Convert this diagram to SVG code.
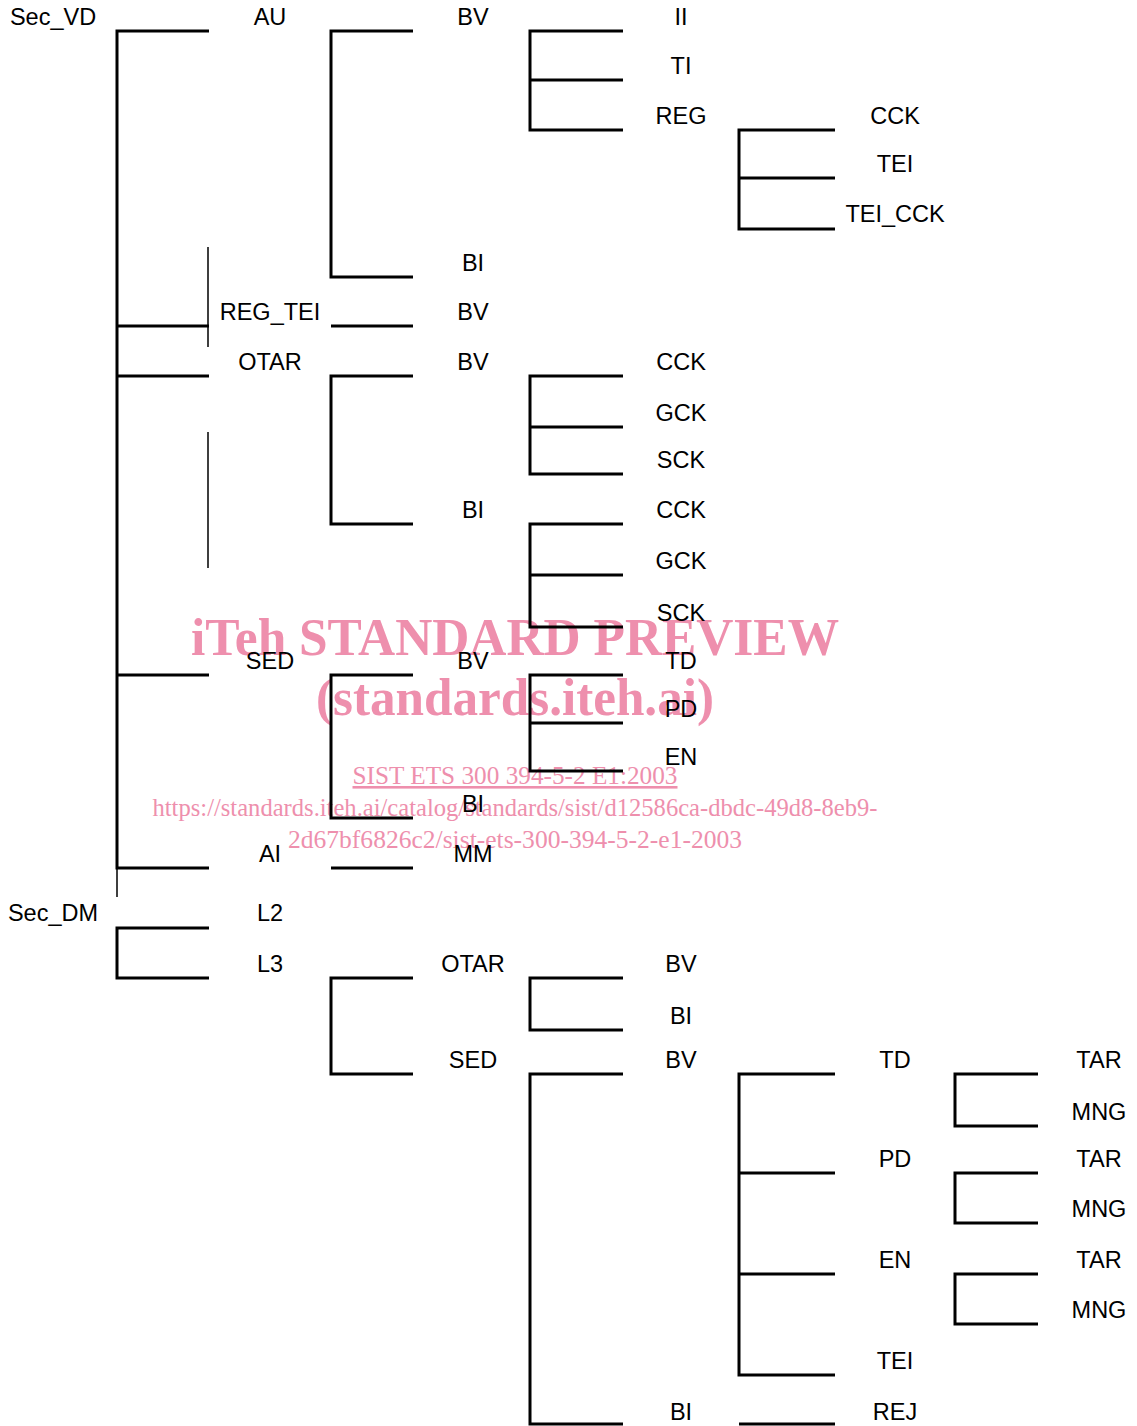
<svg xmlns="http://www.w3.org/2000/svg" width="1137" height="1426" viewBox="0 0 1137 1426">
<style>
.c{fill:none;stroke:#000;stroke-width:3;stroke-linecap:butt;stroke-linejoin:miter}
.t{fill:none;stroke:#000;stroke-width:1.5}
.l{font-family:"Liberation Sans",Arial,sans-serif;font-size:23.5px;fill:#000;text-anchor:middle}
.wm{font-family:"Liberation Serif","Times New Roman",serif;fill:#EE8FAD;text-anchor:middle}
.wb{font-weight:bold;font-size:52px}
.ws{font-size:26px}
</style>
<rect width="1137" height="1426" fill="#fff"/>
<g id="watermark">
<text class="wm wb" x="515" y="655" textLength="648" lengthAdjust="spacingAndGlyphs">iTeh STANDARD PREVIEW</text>
<text class="wm wb" x="515" y="715" textLength="398" lengthAdjust="spacingAndGlyphs">(standards.iteh.ai)</text>
<text class="wm ws" x="515" y="784" textLength="325" lengthAdjust="spacingAndGlyphs" text-decoration="underline">SIST ETS 300 394-5-2 E1:2003</text>
<text class="wm ws" x="515" y="816" textLength="725" lengthAdjust="spacingAndGlyphs">https://standards.iteh.ai/catalog/standards/sist/d12586ca-dbdc-49d8-8eb9-</text>
<text class="wm ws" x="515" y="848" textLength="454" lengthAdjust="spacingAndGlyphs">2d67bf6826c2/sist-ets-300-394-5-2-e1-2003</text>
</g>
<g id="connectors">
<path class="c" d="M209,31H117V868H209M117,326H209M117,376H209M117,675H209"/>
<path class="t" d="M117,868V897M208,247V347M208,432V568"/>
<path class="c" d="M413,31H331V277H413M331,326H413M413,376H331V524H413M413,675H331V818H413M331,868H413"/>
<path class="c" d="M623,31H530V130H623M530,80H623"/>
<path class="c" d="M623,376H530V474H623M530,427H623"/>
<path class="c" d="M623,524H530V627H623M530,575H623"/>
<path class="c" d="M623,675H530V771H623M530,723H623"/>
<path class="c" d="M835,130H739V229H835M739,178H835"/>
<path class="c" d="M209,928H117V978H209"/>
<path class="c" d="M413,978H331V1074H413"/>
<path class="c" d="M623,978H530V1030H623"/>
<path class="c" d="M623,1074H530V1424H623"/>
<path class="c" d="M835,1074H739V1375H835M739,1173H835M739,1274H835M739,1424H835"/>
<path class="c" d="M1038,1074H955V1126H1038"/>
<path class="c" d="M1038,1173H955V1223H1038"/>
<path class="c" d="M1038,1274H955V1324H1038"/>
</g>
<g id="n_secvd"><text class="l" x="53" y="25">Sec_VD</text></g>
<g id="n_au"><text class="l" x="270" y="25">AU</text></g>
<g id="n_au_bv"><text class="l" x="473" y="25">BV</text></g>
<g id="n_au_bv_ii"><text class="l" x="681" y="25">II</text></g>
<g id="n_au_bv_ti"><text class="l" x="681" y="74">TI</text></g>
<g id="n_au_bv_reg"><text class="l" x="681" y="124">REG</text></g>
<g id="n_reg_cck"><text class="l" x="895" y="124">CCK</text></g>
<g id="n_reg_tei"><text class="l" x="895" y="172">TEI</text></g>
<g id="n_reg_teicck"><text class="l" x="895" y="222">TEI_CCK</text></g>
<g id="n_au_bi"><text class="l" x="473" y="271">BI</text></g>
<g id="n_regtei"><text class="l" x="270" y="320">REG_TEI</text></g>
<g id="n_regtei_bv"><text class="l" x="473" y="320">BV</text></g>
<g id="n_otar"><text class="l" x="270" y="370">OTAR</text></g>
<g id="n_otar_bv"><text class="l" x="473" y="370">BV</text></g>
<g id="n_otar_bv_cck"><text class="l" x="681" y="370">CCK</text></g>
<g id="n_otar_bv_gck"><text class="l" x="681" y="421">GCK</text></g>
<g id="n_otar_bv_sck"><text class="l" x="681" y="468">SCK</text></g>
<g id="n_otar_bi"><text class="l" x="473" y="518">BI</text></g>
<g id="n_otar_bi_cck"><text class="l" x="681" y="518">CCK</text></g>
<g id="n_otar_bi_gck"><text class="l" x="681" y="569">GCK</text></g>
<g id="n_otar_bi_sck"><text class="l" x="681" y="621">SCK</text></g>
<g id="n_sed"><text class="l" x="270" y="669">SED</text></g>
<g id="n_sed_bv"><text class="l" x="473" y="669">BV</text></g>
<g id="n_sed_bv_td"><text class="l" x="681" y="669">TD</text></g>
<g id="n_sed_bv_pd"><text class="l" x="681" y="717">PD</text></g>
<g id="n_sed_bv_en"><text class="l" x="681" y="765">EN</text></g>
<g id="n_sed_bi"><text class="l" x="473" y="812">BI</text></g>
<g id="n_ai"><text class="l" x="270" y="862">AI</text></g>
<g id="n_ai_mm"><text class="l" x="473" y="862">MM</text></g>
<g id="n_secdm"><text class="l" x="53" y="921">Sec_DM</text></g>
<g id="n_l2"><text class="l" x="270" y="921">L2</text></g>
<g id="n_l3"><text class="l" x="270" y="972">L3</text></g>
<g id="n_l3_otar"><text class="l" x="473" y="972">OTAR</text></g>
<g id="n_l3_otar_bv"><text class="l" x="681" y="972">BV</text></g>
<g id="n_l3_otar_bi"><text class="l" x="681" y="1024">BI</text></g>
<g id="n_l3_sed"><text class="l" x="473" y="1068">SED</text></g>
<g id="n_l3_sed_bv"><text class="l" x="681" y="1068">BV</text></g>
<g id="n_td"><text class="l" x="895" y="1068">TD</text></g>
<g id="n_td_tar"><text class="l" x="1099" y="1068">TAR</text></g>
<g id="n_td_mng"><text class="l" x="1099" y="1120">MNG</text></g>
<g id="n_pd"><text class="l" x="895" y="1167">PD</text></g>
<g id="n_pd_tar"><text class="l" x="1099" y="1167">TAR</text></g>
<g id="n_pd_mng"><text class="l" x="1099" y="1217">MNG</text></g>
<g id="n_en"><text class="l" x="895" y="1268">EN</text></g>
<g id="n_en_tar"><text class="l" x="1099" y="1268">TAR</text></g>
<g id="n_en_mng"><text class="l" x="1099" y="1318">MNG</text></g>
<g id="n_tei"><text class="l" x="895" y="1369">TEI</text></g>
<g id="n_l3_sed_bi"><text class="l" x="681" y="1420">BI</text></g>
<g id="n_rej"><text class="l" x="895" y="1420">REJ</text></g>
</svg>
